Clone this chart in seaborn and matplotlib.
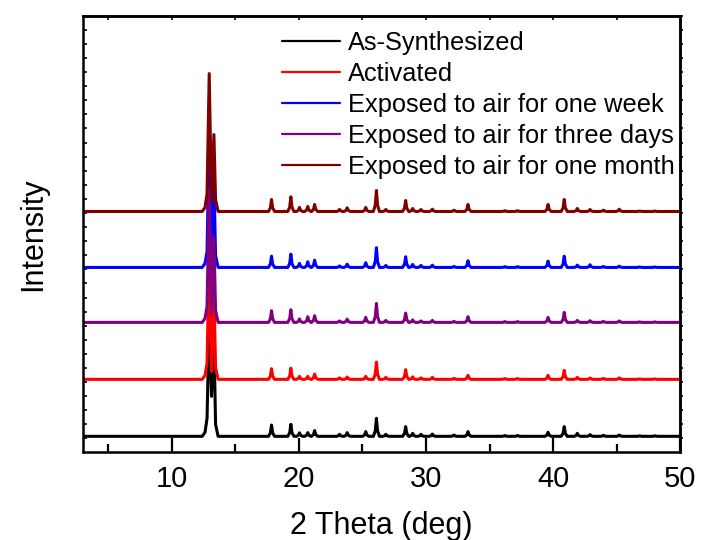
import numpy as np
import pandas as pd
import matplotlib
matplotlib.use("Agg")
import matplotlib.pyplot as plt
import seaborn as sns

# ---------------- data ----------------
samples = ["As-Synthesized", "Activated", "Exposed to air for one week",
           "Exposed to air for three days", "Exposed to air for one month"]
colors = ["#000000", "#ff0000", "#0000ff", "#800080", "#800000"]
offsets = [16, 73, 185, 130, 241]          # vertical offset (a.u.) of each trace

x_ticks = [10, 20, 30, 40, 50]
x_minor = [5, 15, 25, 35, 45]

# main doublet (~12.9 / 13.3 deg): vertices and intensities per sample
main_x = [12.40, 12.62, 12.78, 12.95, 13.13, 13.32, 13.45, 13.65]
main_y = {
    "As-Synthesized":                [0, 4, 18, 120, 40, 100, 12, 0],
    "Activated":                     [0, 4, 16, 130, 8, 92, 12, 0],
    "Exposed to air for one week":   [0, 4, 16, 134, 8, 88, 12, 0],
    "Exposed to air for three days": [0, 4, 16, 134, 8, 86, 12, 0],
    "Exposed to air for one month":  [0, 4, 18, 138, 10, 77, 12, 0],
}

# minor reflections: positions (deg) and intensities per sample
minor_pos = [17.85, 19.37, 20.05, 20.70, 21.24, 23.20, 23.80, 25.26, 26.10, 26.84,
             28.40, 28.95, 29.60, 30.50, 32.20, 33.30, 36.20, 37.20, 39.60, 40.87,
             41.90, 42.90, 43.95, 45.20, 46.80, 48.00]
minor_h = {
    "As-Synthesized":                [11.3, 12.0, 3.5, 3.7, 5.7, 2.0, 3.7, 4.7, 18.0, 2.0,
                                      9.7, 3.0, 2.0, 2.3, 1.3, 4.7, 0.8, 0.8, 4.0, 9.7,
                                      3.0, 1.7, 1.0, 1.3, 0.5, 0.5],
    "Activated":                     [10.7, 11.3, 3.0, 3.0, 5.3, 1.5, 2.3, 3.0, 17.3, 2.0,
                                      9.7, 2.5, 1.5, 2.0, 1.0, 4.0, 0.8, 0.8, 4.0, 9.0,
                                      2.0, 1.3, 1.0, 1.5, 0.5, 0.5],
    "Exposed to air for one week":   [11.3, 13.3, 4.0, 5.7, 7.3, 1.5, 3.3, 4.7, 19.7, 2.0,
                                      10.7, 3.0, 2.0, 2.3, 1.0, 6.7, 0.8, 0.8, 6.3, 11.3,
                                      2.3, 2.7, 1.0, 1.3, 0.5, 0.5],
    "Exposed to air for three days": [11.7, 12.7, 3.5, 5.7, 6.7, 1.5, 3.3, 5.0, 19.0, 2.0,
                                      9.3, 2.5, 1.5, 2.0, 1.0, 5.7, 0.8, 0.8, 5.0, 10.0,
                                      2.0, 1.7, 1.0, 1.5, 0.5, 0.5],
    "Exposed to air for one month":  [12.0, 14.7, 4.0, 5.0, 7.0, 2.0, 3.7, 4.0, 21.0, 2.0,
                                      11.0, 3.0, 2.0, 2.3, 1.3, 7.0, 0.8, 0.8, 7.0, 12.0,
                                      3.0, 2.0, 1.3, 2.3, 0.5, 0.5],
}

# ---------------- build long table ----------------
rows = []
for s, off in zip(samples, offsets):
    pts = [(3.0, 0.0)]
    pts += list(zip(main_x, main_y[s]))
    for p, h in zip(minor_pos, minor_h[s]):
        pts += [(p - 0.24, 0.0), (p - 0.09, 0.3 * h), (p, h),
                (p + 0.09, 0.3 * h), (p + 0.24, 0.0)]
    pts.append((50.0, 0.0))
    pts.sort(key=lambda t: t[0])
    for xv, yv in pts:
        rows.append({"2theta": xv, "intensity": yv + off, "sample": s})
df = pd.DataFrame(rows)

# ---------------- plot ----------------
sns.set_style("ticks")
plt.rcParams["font.family"] = ["Liberation Sans", "DejaVu Sans"]
for k in ["text.color", "axes.labelcolor", "xtick.color", "ytick.color", "axes.edgecolor"]:
    plt.rcParams[k] = "black"

fig = plt.figure(figsize=(7.02, 5.40), dpi=100)
ax = fig.add_axes([0.1178, 0.1624, 0.8513, 0.8085])

sns.lineplot(data=df, x="2theta", y="intensity", hue="sample", hue_order=samples,
             palette=colors, estimator=None, sort=False, linewidth=2.2, ax=ax)

ax.set_xlim(3, 50)
ax.set_ylim(0, 436.6)

ax.set_xticks(x_ticks)
ax.set_xticks(x_minor, minor=True)
ax.tick_params(axis="x", which="major", direction="in", length=10, width=1.6,
               labelsize=21, pad=9, colors="black")
ax.tick_params(axis="x", which="minor", direction="in", length=6, width=1.6)

yt = np.arange(13.9, 437, 14.1)
ax.set_yticks(yt)
ax.tick_params(axis="y", which="major", direction="in", length=3, width=1.2,
               labelleft=False)

top = ax.secondary_xaxis("top")
top.set_xticks(x_ticks + x_minor)
top.tick_params(direction="in", length=3, width=1.2, labeltop=False)
right = ax.secondary_yaxis("right")
right.set_yticks(yt)
right.tick_params(direction="out", length=2.5, width=1.2, labelright=False)

for sp in list(ax.spines.values()) + [top.spines["top"], right.spines["right"]]:
    sp.set_linewidth(1.8)
    sp.set_color("black")

ax.set_xlabel("2 Theta (deg)", fontsize=22, labelpad=13, color="black")
ax.set_ylabel("Intensity", fontsize=22, labelpad=25, color="black")

handles, labels = ax.get_legend_handles_labels()
leg = ax.legend(handles, labels, loc="upper left", bbox_to_anchor=(0.333, 0.966),
                frameon=False, fontsize=18.3, handlelength=2.3, handletextpad=0.3,
                labelspacing=0.28, borderpad=0, borderaxespad=0)
for ln in leg.get_lines():
    ln.set_linewidth(1.6)
for t in leg.get_texts():
    t.set_color("black")

fig.savefig("out.png", dpi=100)
